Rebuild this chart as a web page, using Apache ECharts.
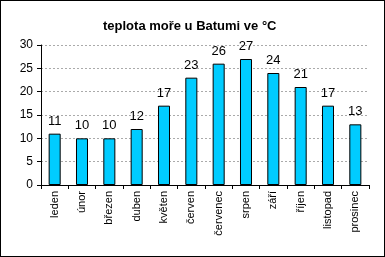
<!DOCTYPE html>
<html>
<head>
<meta charset="utf-8">
<script src="https://cdn.jsdelivr.net/npm/echarts@6/dist/echarts.min.js"></script>
<style>
html, body { margin: 0; padding: 0; background: #fff; }
#chart { width: 385px; height: 257px; box-sizing: border-box; border: 1px solid #000; }
</style>
</head>
<body>
<div id="chart"></div>
<script>
var months = ['leden', 'únor', 'březen', 'duben', 'květen', 'červen', 'červenec', 'srpen', 'září', 'říjen', 'listopad', 'prosinec'];
var seaTemp = [11, 10, 10, 12, 17, 23, 26, 27, 24, 21, 17, 13];

var myChart = echarts.init(document.getElementById('chart'));
var option = {
    animation: false,
    title: {
        text: 'teplota moře u Batumi ve °C',
        left: 97,
        top: 14,
        textStyle: { fontFamily: 'Liberation Sans', fontSize: 13, fontWeight: 'bold', color: '#000' }
    },
    grid: { left: 40, right: 15, top: 44, bottom: 71 },
    xAxis: {
        type: 'category',
        data: months,
        axisLine: { lineStyle: { color: '#000' } },
        axisTick: { show: true, length: 4, lineStyle: { color: '#000' } },
        axisLabel: { rotate: 90, fontFamily: 'Liberation Sans', fontSize: 11, color: '#000', margin: 6 }
    },
    yAxis: {
        type: 'value',
        min: 0, max: 30, interval: 5,
        axisLine: { show: true, lineStyle: { color: '#000' } },
        axisTick: { show: true, length: 4, lineStyle: { color: '#000' } },
        axisLabel: { fontFamily: 'Liberation Sans', fontSize: 12, color: '#000', margin: 8 },
        splitLine: { lineStyle: { color: '#aaa', type: [2, 2] } }
    },
    series: [{
        type: 'bar',
        data: seaTemp,
        barWidth: '44%',
        itemStyle: { color: '#00CCFF', borderColor: '#000', borderWidth: 1 },
        label: { show: true, position: 'top', distance: 6, fontFamily: 'Liberation Sans', fontSize: 13, color: '#000' }
    }]
};
myChart.setOption(option);
</script>
</body>
</html>
